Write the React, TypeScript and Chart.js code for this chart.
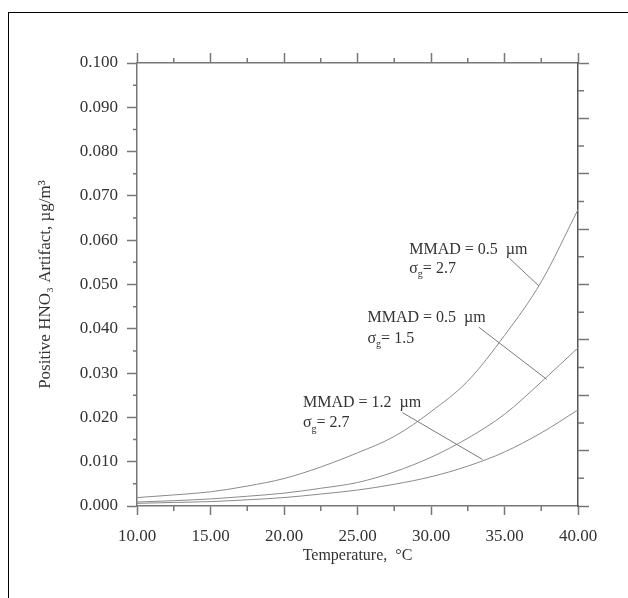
import { useEffect, useRef } from 'react';
import { Chart, registerables } from 'chart.js';

Chart.register(...registerables);

// Temperature grid (°C) and the positive HNO3 artifact (µg/m³) for three aerosol size distributions
const TEMPERATURE = [10, 12.5, 15, 17.5, 20, 22.5, 25, 27.5, 30, 32.5, 35, 37.5, 40];
const ARTIFACT_MMAD05_SG27 = [0.0019, 0.0025, 0.0032, 0.0045, 0.0062, 0.0088, 0.012, 0.0157, 0.0213, 0.0282, 0.0385, 0.0506, 0.0669];
const ARTIFACT_MMAD05_SG15 = [0.0009, 0.0012, 0.0016, 0.0022, 0.0029, 0.004, 0.0053, 0.0077, 0.011, 0.0153, 0.0207, 0.028, 0.0357];
const ARTIFACT_MMAD12_SG27 = [0.0006, 0.0008, 0.001, 0.0014, 0.0019, 0.0027, 0.0036, 0.0049, 0.0066, 0.009, 0.0122, 0.0165, 0.0217];

// Curve labels
const LABEL_MMAD = ['0.5', '0.5', '1.2'];
const LABEL_SIGMA = ['2.7', '1.5', '2.7'];

// Axis ranges and tick steps
const X_MIN = 10;
const X_MAX = 40;
const X_STEP = 5;
const X_MINOR = [12.5, 17.5, 22.5, 27.5, 32.5, 37.5];
const Y_MIN = 0;
const Y_MAX = 0.1;
const Y_STEP = 0.01;
const Y_MINOR = [0.005, 0.015, 0.025, 0.035, 0.045, 0.055, 0.065, 0.075, 0.085, 0.095];
const Y2_MAX = 8;
const Y2_MINOR = [0.5, 1.5, 2.5, 3.5, 4.5, 5.5, 6.5, 7.5];

// Label placement in data coordinates: text anchor and leader line
const LABEL_LAYOUT = [
  { x: 28.52, y1: 0.0579, y2: 0.0536, from: [35.34, 0.0559], to: [37.33, 0.0497] },
  { x: 25.68, y1: 0.0424, y2: 0.0378, from: [33.24, 0.0404], to: [37.87, 0.0286] },
  { x: 21.29, y1: 0.0233, y2: 0.0187, from: [28.05, 0.0211], to: [33.51, 0.0105] },
];

const FONT = "'Liberation Serif', 'Times New Roman', serif";
const TEXT_COLOR = '#333';
const AXIS_COLOR = '#777';
const CURVE_COLOR = '#8a8a8a';

const toPoints = (ys: number[]) => TEMPERATURE.map((t, i) => ({ x: t, y: ys[i] }));

const annotationPlugin = {
  id: 'curveLabels',
  afterDatasetsDraw(chart: any) {
    const { ctx, scales } = chart;
    const xs = scales.x;
    const ys = scales.y;
    ctx.save();
    ctx.fillStyle = TEXT_COLOR;
    ctx.strokeStyle = '#7a7a7a';
    ctx.lineWidth = 1;
    ctx.textBaseline = 'middle';
    ctx.textAlign = 'left';
    LABEL_LAYOUT.forEach((l, i) => {
      const px = xs.getPixelForValue(l.x);
      ctx.font = `16px ${FONT}`;
      ctx.fillText(`MMAD = ${LABEL_MMAD[i]}  µm`, px, ys.getPixelForValue(l.y1));
      const py2 = ys.getPixelForValue(l.y2);
      ctx.fillText('σ', px, py2);
      const ws = ctx.measureText('σ').width;
      ctx.font = `10px ${FONT}`;
      ctx.fillText('g', px + ws, py2 + 6);
      const wg = ctx.measureText('g').width;
      ctx.font = `16px ${FONT}`;
      ctx.fillText(`= ${LABEL_SIGMA[i]}`, px + ws + wg, py2);
      ctx.beginPath();
      ctx.moveTo(xs.getPixelForValue(l.from[0]), ys.getPixelForValue(l.from[1]));
      ctx.lineTo(xs.getPixelForValue(l.to[0]), ys.getPixelForValue(l.to[1]));
      ctx.stroke();
    });
    ctx.restore();
  },
};

const minorTickPlugin = {
  id: 'minorTicks',
  afterDraw(chart: any) {
    const { ctx, chartArea, scales } = chart;
    ctx.save();
    ctx.strokeStyle = AXIS_COLOR;
    ctx.lineWidth = 1.5;
    ctx.beginPath();
    X_MINOR.forEach((v) => {
      const px = scales.x.getPixelForValue(v);
      ctx.moveTo(px, chartArea.bottom);
      ctx.lineTo(px, chartArea.bottom + 5);
      ctx.moveTo(px, chartArea.top);
      ctx.lineTo(px, chartArea.top - 5);
    });
    Y_MINOR.forEach((v) => {
      const py = scales.y.getPixelForValue(v);
      ctx.moveTo(chartArea.left, py);
      ctx.lineTo(chartArea.left - 4, py);
    });
    Y2_MINOR.forEach((v) => {
      const py = scales.y2.getPixelForValue(v);
      ctx.moveTo(chartArea.right, py);
      ctx.lineTo(chartArea.right + 6, py);
    });
    ctx.stroke();
    ctx.restore();
  },
};

export default function App() {
  const canvasRef = useRef<HTMLCanvasElement | null>(null);

  useEffect(() => {
    const canvas = canvasRef.current;
    if (!canvas) return;

    const curve = (label: string, ys: number[]) => ({
      label,
      data: toPoints(ys),
      borderColor: CURVE_COLOR,
      borderWidth: 1,
      pointRadius: 0,
      fill: false,
      tension: 0.4,
      cubicInterpolationMode: 'monotone' as const,
    });

    const axisBorder = { display: true, color: AXIS_COLOR, width: 1.5 };

    const chart = new Chart(canvas, {
      type: 'line',
      data: {
        datasets: [
          curve('MMAD 0.5 µm, σg 2.7', ARTIFACT_MMAD05_SG27),
          curve('MMAD 0.5 µm, σg 1.5', ARTIFACT_MMAD05_SG15),
          curve('MMAD 1.2 µm, σg 2.7', ARTIFACT_MMAD12_SG27),
        ],
      },
      options: {
        animation: false,
        responsive: false,
        devicePixelRatio: 1,
        layout: { padding: 0 },
        plugins: { legend: { display: false }, tooltip: { enabled: false } },
        scales: {
          x: {
            type: 'linear',
            position: 'bottom',
            min: X_MIN,
            max: X_MAX,
            border: axisBorder,
            grid: { drawOnChartArea: false, drawTicks: true, tickLength: 9, tickColor: AXIS_COLOR, tickWidth: 1.5 },
            ticks: {
              stepSize: X_STEP,
              padding: 11,
              maxRotation: 0,
              color: TEXT_COLOR,
              font: { family: FONT, size: 17 },
              callback: (v: any) => Number(v).toFixed(2),
            },
            title: {
              display: true,
              text: 'Temperature,  °C',
              color: TEXT_COLOR,
              font: { family: FONT, size: 16 },
              padding: { top: 0, bottom: 33 },
            },
            afterFit: (s: any) => { s.height = 92; },
          },
          x2: {
            type: 'linear',
            position: 'top',
            min: X_MIN,
            max: X_MAX,
            border: axisBorder,
            grid: { drawOnChartArea: false, drawTicks: true, tickLength: 10, tickColor: AXIS_COLOR, tickWidth: 1.5 },
            ticks: { stepSize: X_STEP, display: false },
            afterFit: (s: any) => { s.height = 63; },
          },
          y: {
            type: 'linear',
            position: 'left',
            min: Y_MIN,
            max: Y_MAX,
            border: axisBorder,
            grid: { drawOnChartArea: false, drawTicks: true, tickLength: 10, tickColor: AXIS_COLOR, tickWidth: 1.5 },
            ticks: {
              stepSize: Y_STEP,
              padding: 9,
              color: TEXT_COLOR,
              font: { family: FONT, size: 17 },
              callback: (v: any) => Number(v).toFixed(3),
            },
            title: {
              display: true,
              text: 'Positive HNO₃ Artifact, µg/m³',
              color: TEXT_COLOR,
              font: { family: FONT, size: 17 },
              padding: { top: 35, bottom: 0 },
            },
            afterFit: (s: any) => { s.width = 137; },
          },
          y2: {
            type: 'linear',
            position: 'right',
            min: 0,
            max: Y2_MAX,
            border: { display: true, color: '#555', width: 1.5 },
            grid: { drawOnChartArea: false, drawTicks: true, tickLength: 11, tickColor: AXIS_COLOR, tickWidth: 1.5 },
            ticks: { stepSize: 1, display: false },
            afterFit: (s: any) => { s.width = 50; },
          },
        },
      },
      plugins: [annotationPlugin, minorTickPlugin],
    });

    return () => chart.destroy();
  }, []);

  return (
    <div>
      <div
        style={{
          position: 'absolute',
          left: 8,
          top: 12,
          width: 620,
          height: 586,
          boxSizing: 'border-box',
          borderTop: '1.5px solid #000',
          borderLeft: '1.5px solid #000',
        }}
      />
      <canvas
        ref={canvasRef}
        width={628}
        height={598}
        style={{ position: 'absolute', left: 0, top: 0, width: 628, height: 598 }}
      />
    </div>
  );
}
